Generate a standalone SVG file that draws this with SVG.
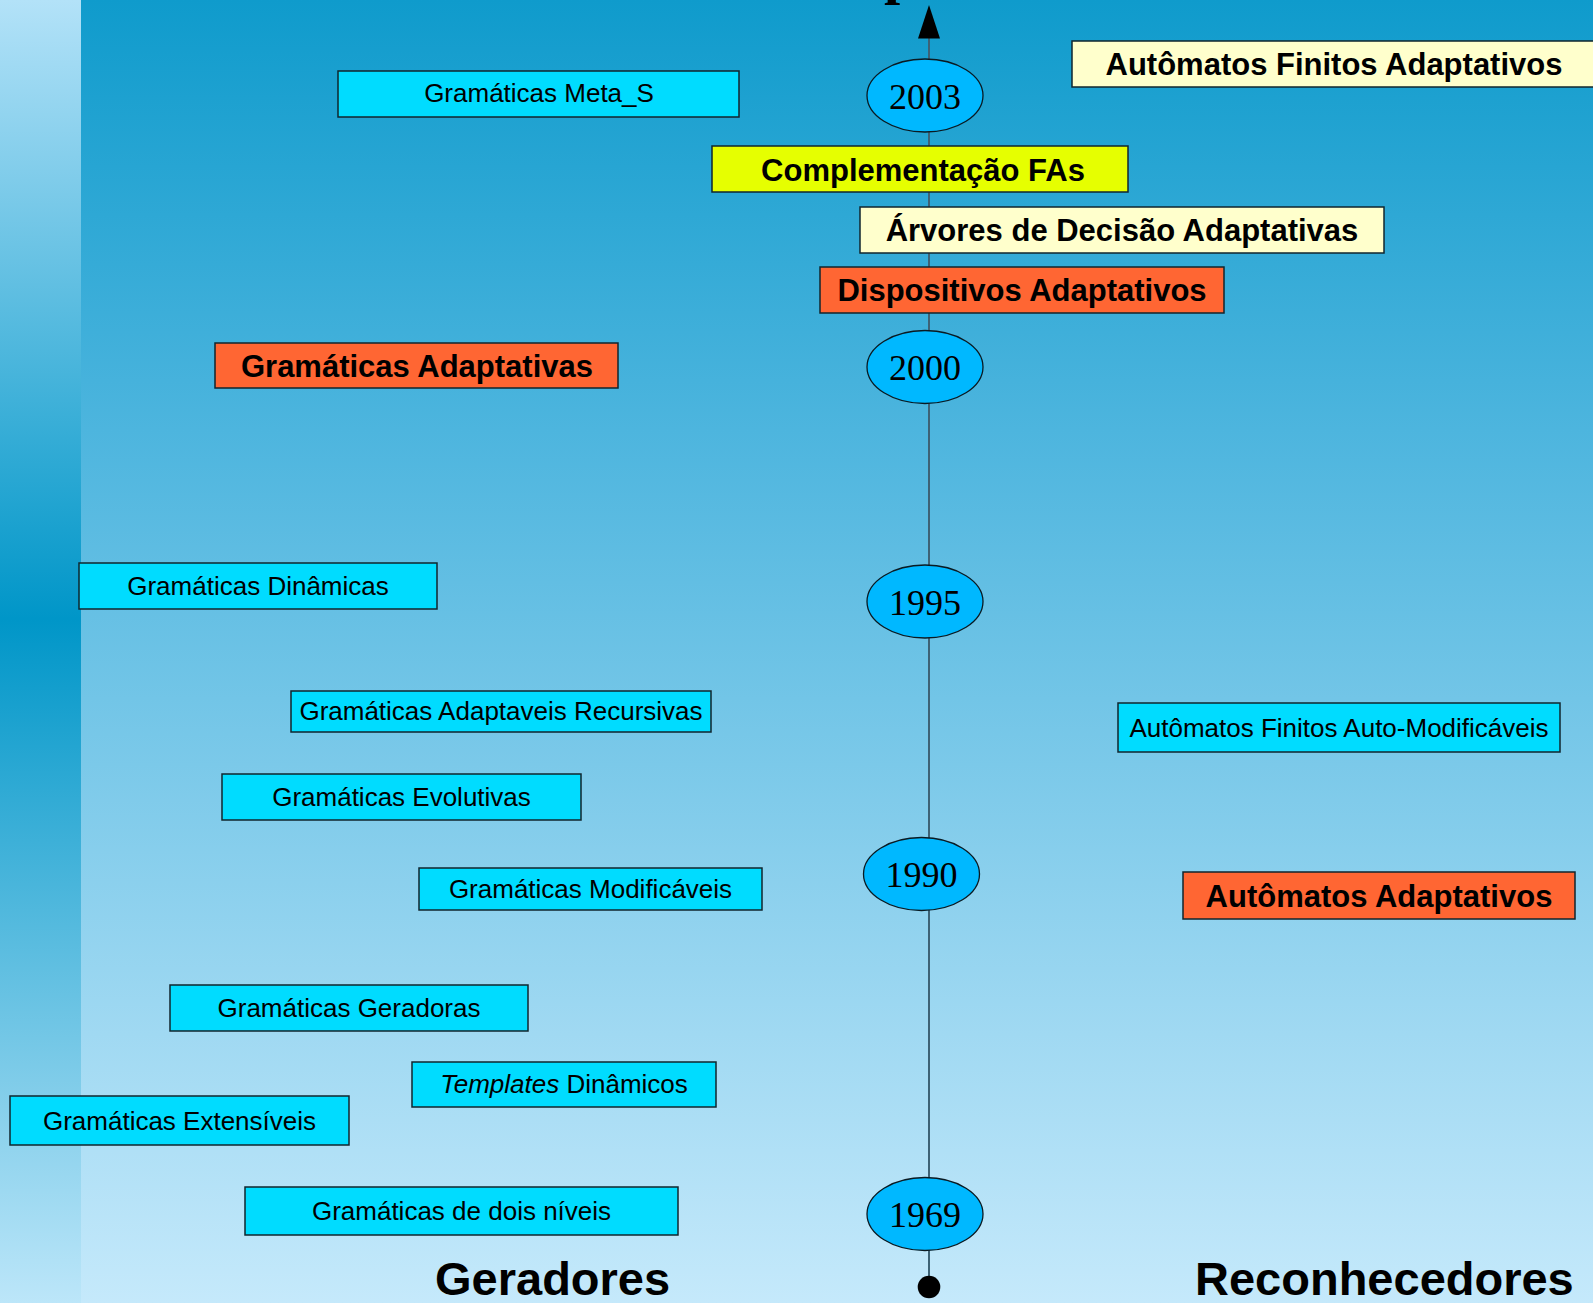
<svg xmlns="http://www.w3.org/2000/svg" width="1593" height="1303" viewBox="0 0 1593 1303">
  <defs>
    <linearGradient id="bgMain" x1="0" y1="0" x2="0" y2="1">
      <stop offset="0" stop-color="#0f9bcc"/>
      <stop offset="0.33" stop-color="#4db5de"/>
      <stop offset="1" stop-color="#c5e9fb"/>
    </linearGradient>
    <linearGradient id="bgStrip" x1="0" y1="0" x2="0" y2="1">
      <stop offset="0" stop-color="#b3e2f8"/>
      <stop offset="0.475" stop-color="#0096c8"/>
      <stop offset="1" stop-color="#bce6f9"/>
    </linearGradient>
    <style>
      .box { stroke: #10262e; stroke-width: 1.5; }
      .cyan { fill: #00dcff; }
      .orange { fill: #ff6633; }
      .cream { fill: #ffffcc; }
      .lime { fill: #e6ff00; }
      .reg { font-family: "Liberation Sans", Arial, sans-serif; font-size: 26px; fill: #000; text-anchor: middle; }
      .bold { font-family: "Liberation Sans", Arial, sans-serif; font-size: 31px; font-weight: bold; fill: #000; text-anchor: middle; }
      .year ellipse { fill: #00b8ff; stroke: #0a1a22; stroke-width: 1.3; }
      .year text { font-family: "Liberation Serif", "Times New Roman", serif; font-size: 36px; fill: #000; text-anchor: middle; }
      .side { font-family: "Liberation Sans", Arial, sans-serif; font-size: 47px; font-weight: bold; fill: #000; }
    </style>
  </defs>

  <!-- background -->
  <rect x="0" y="0" width="1593" height="1303" fill="url(#bgMain)"/>
  <rect x="0" y="0" width="81" height="1303" fill="url(#bgStrip)"/>

  <!-- title descender peeking in at the top edge -->
  <text x="884" y="-7.5" font-family="Liberation Serif, Times New Roman, serif" font-weight="bold" font-size="58">p</text>

  <!-- time axis -->
  <g id="connectors">
    <line x1="929" y1="38" x2="929" y2="1287" stroke="#3d6275" stroke-width="2"/>
    <polygon points="929,5 918,38.5 940,38.5" fill="#000"/>
    <circle cx="929" cy="1287" r="11.3" fill="#000"/>
  </g>

  <!-- years -->
  <g id="y2003" class="year"><ellipse cx="925" cy="95.5" rx="58" ry="36.5"/><text x="925" y="108.5">2003</text></g>
  <g id="y2000" class="year"><ellipse cx="925" cy="367" rx="58" ry="36.5"/><text x="925" y="380">2000</text></g>
  <g id="y1995" class="year"><ellipse cx="925" cy="601.5" rx="58" ry="36.5"/><text x="925" y="614.5">1995</text></g>
  <g id="y1990" class="year"><ellipse cx="921.5" cy="874" rx="58" ry="36.5"/><text x="921.5" y="887">1990</text></g>
  <g id="y1969" class="year"><ellipse cx="925" cy="1214" rx="58" ry="36.5"/><text x="925" y="1227">1969</text></g>

  <!-- recognisers / devices -->
  <g id="afa"><rect class="box cream" x="1072" y="41" width="524" height="46"/><text class="bold" x="1334" y="75">Autômatos Finitos Adaptativos</text></g>
  <g id="complementacao"><rect class="box lime" x="712" y="146" width="416" height="46"/><text class="bold" x="923" y="180.5">Complementação FAs</text></g>
  <g id="arvores"><rect class="box cream" x="860" y="207" width="524" height="46"/><text class="bold" x="1122" y="241">Árvores de Decisão Adaptativas</text></g>
  <g id="dispositivos"><rect class="box orange" x="820" y="267" width="404" height="46"/><text class="bold" x="1022" y="301">Dispositivos Adaptativos</text></g>
  <g id="afam"><rect class="box cyan" x="1118" y="703" width="442" height="49"/><text class="reg" x="1339" y="736.5">Autômatos Finitos Auto-Modificáveis</text></g>
  <g id="aa"><rect class="box orange" x="1183" y="872" width="392" height="47"/><text class="bold" x="1379" y="906.5">Autômatos Adaptativos</text></g>

  <!-- generators -->
  <g id="metas"><rect class="box cyan" x="338" y="71" width="401" height="46"/><text class="reg" x="539" y="102">Gramáticas Meta_S</text></g>
  <g id="ga"><rect class="box orange" x="215" y="343" width="403" height="45"/><text class="bold" x="417" y="377">Gramáticas Adaptativas</text></g>
  <g id="gdin"><rect class="box cyan" x="79" y="563" width="358" height="46"/><text class="reg" x="258" y="594.5">Gramáticas Dinâmicas</text></g>
  <g id="gar"><rect class="box cyan" x="291" y="691" width="420" height="41"/><text class="reg" x="501" y="720">Gramáticas Adaptaveis Recursivas</text></g>
  <g id="gevo"><rect class="box cyan" x="222" y="774" width="359" height="46"/><text class="reg" x="401.5" y="806">Gramáticas Evolutivas</text></g>
  <g id="gmod"><rect class="box cyan" x="419" y="868" width="343" height="42"/><text class="reg" x="590.5" y="898">Gramáticas Modificáveis</text></g>
  <g id="gger"><rect class="box cyan" x="170" y="985" width="358" height="46"/><text class="reg" x="349" y="1017">Gramáticas Geradoras</text></g>
  <g id="tdin"><rect class="box cyan" x="412" y="1062" width="304" height="45"/><text class="reg" x="564" y="1093"><tspan font-style="italic">Templates</tspan> Dinâmicos</text></g>
  <g id="gext"><rect class="box cyan" x="10" y="1096" width="339" height="49"/><text class="reg" x="179.5" y="1129.5">Gramáticas Extensíveis</text></g>
  <g id="gdois"><rect class="box cyan" x="245" y="1187" width="433" height="48"/><text class="reg" x="461.5" y="1220">Gramáticas de dois níveis</text></g>

  <!-- column headings -->
  <text class="side" x="435" y="1295">Geradores</text>
  <text class="side" x="1195" y="1295">Reconhecedores</text>
</svg>
